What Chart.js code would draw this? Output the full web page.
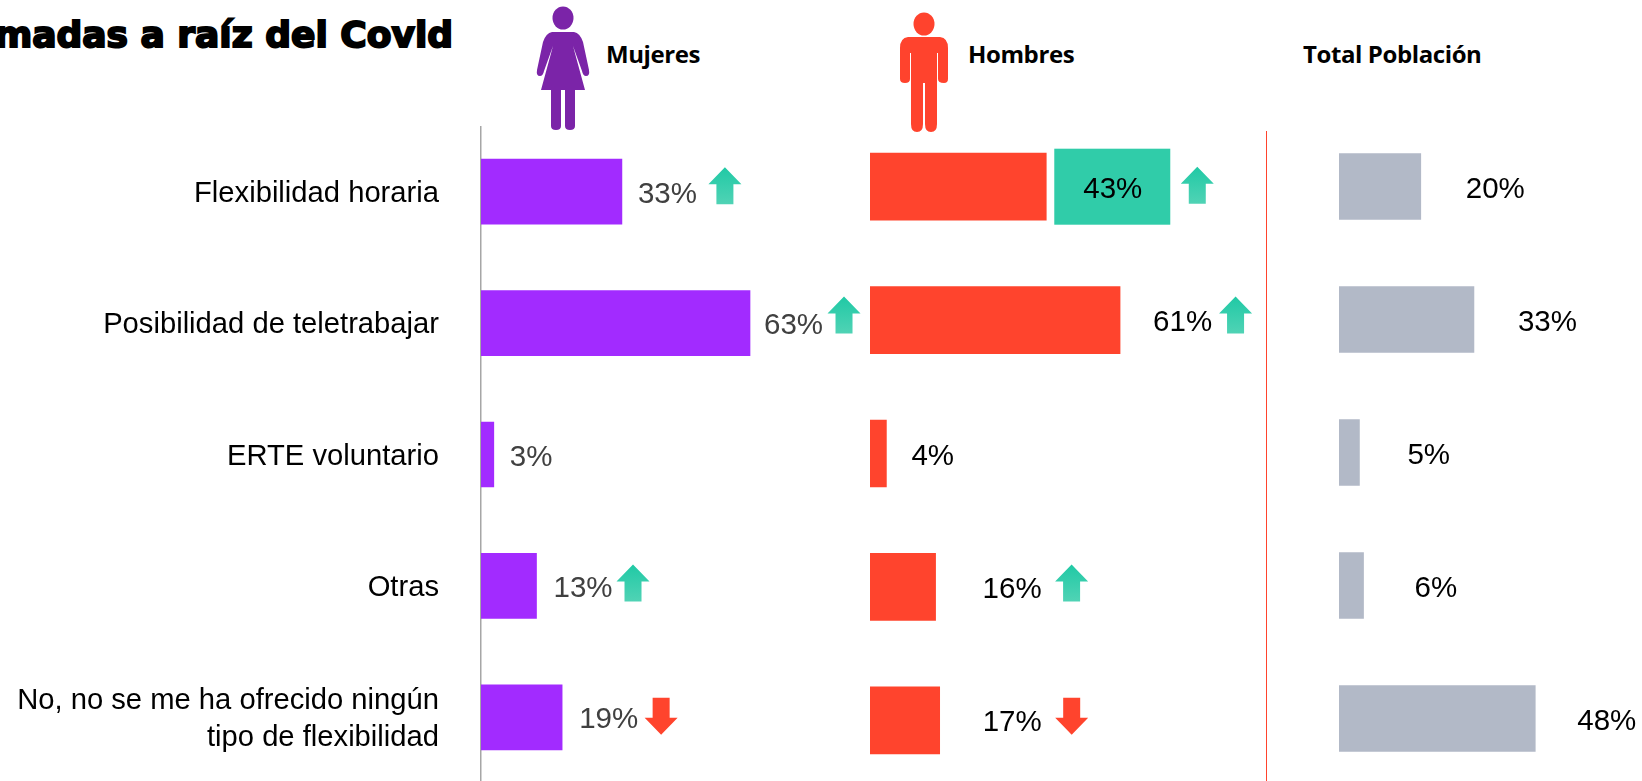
<!DOCTYPE html>
<html lang="es">
<head>
<meta charset="utf-8">
<title>Medidas a raíz del Covid</title>
<script src="https://cdn.jsdelivr.net/npm/chart.js@4"></script>
<style>
  html, body { margin: 0; height: 781px; background: #fff; overflow: hidden; }
  canvas, .head, svg, .rule { position: absolute; }
  .head { font: 700 24px "Open Sans", sans-serif; color: #000; white-space: nowrap; letter-spacing: -0.4px; }
  #title { font: 700 36px "DejaVu Sans", sans-serif; right: 1189px; top: 14px; color: #000;
           -webkit-text-stroke: 2px #000; letter-spacing: 0; }
  .rule { left: 1266px; top: 131px; width: 1px; height: 650px; background: #ff432d; }
</style>
</head>
<body>
<div class="head" id="title">madas a raíz del Covid</div>

<svg style="left:530px;top:0" width="66" height="134" viewBox="530 0 66 134">
  <ellipse cx="563" cy="18" rx="10.5" ry="11.5" fill="#7b24a8"/>
  <path fill="#7b24a8" d="M552 32 H574 Q580 33 583 42 L589 70 Q590 76 586 76 Q583 76 582 71 L573 46 L585 90 H575 V126 Q575 130 570 130 Q565 130 565 126 V90 H561 V126 Q561 130 556 130 Q551 130 551 126 V90 H541 L553 46 L544 71 Q543 76 540 76 Q536 76 537 70 L543 42 Q546 33 552 32 Z"/>
</svg>
<svg style="left:895px;top:0" width="60" height="140" viewBox="895 0 60 140">
  <ellipse cx="924" cy="24" rx="10.5" ry="11.5" fill="#ff432d"/>
  <path fill="#ff432d" d="M908 37 H940 Q948 38 948 48 V79 Q948 83 944 83 Q938 83 938 79 V53 H937 V124 Q937 132 931 132 Q925 132 925 124 V83 H923 V124 Q923 132 917 132 Q911 132 911 124 V53 H910 V79 Q910 83 905 83 Q900 83 900 79 V48 Q900 38 908 37 Z"/>
</svg>

<div class="head" style="left:606px;top:37px">Mujeres</div>
<div class="head" style="left:968px;top:37px">Hombres</div>
<div class="head" style="left:1303px;top:37px">Total Población</div>
<div class="rule"></div>

<canvas id="mujeresChart" width="870" height="657" style="left:0;top:126px"></canvas>
<canvas id="hombresChart" width="396" height="667" style="left:870px;top:120px"></canvas>
<canvas id="totalChart" width="303" height="665" style="left:1339px;top:120px"></canvas>

<script>
const categories = [
  'Flexibilidad horaria',
  'Posibilidad de teletrabajar',
  'ERTE voluntario',
  'Otras',
  ['No, no se me ha ofrecido ningún', 'tipo de flexibilidad'],
];
const mujeres = [33, 63, 3, 13, 19];
const hombres = [43, 61, 4, 16, 17];
const total = [20, 33, 5, 6, 48];
const mujeresTrend = ['up', 'up', null, 'up', 'down'];
const hombresTrend = ['up', 'up', null, 'up', 'down'];

const FONT = '"Liberation Sans", Arial, sans-serif';

// value labels, trend arrows and the highlight box next to each bar
const rowMarks = {
  id: 'rowMarks',
  afterDatasetsDraw(chart, _args, opts) {
    const { ctx } = chart;
    chart.getDatasetMeta(0).data.forEach((bar, i) => {
      if (opts.boxRow === i) {
        ctx.fillStyle = '#30cca9';
        ctx.fillRect(bar.x + 8, bar.y - 38, 116, 76);
      }
      ctx.fillStyle = opts.textColor;
      ctx.font = `29.5px ${FONT}`;
      ctx.textAlign = 'left';
      ctx.textBaseline = 'middle';
      ctx.fillText(`${chart.data.datasets[0].data[i]}%`, bar.x + opts.labelGap[i], bar.y + 3);

      const dir = opts.trend && opts.trend[i];
      if (dir) drawArrow(ctx, bar.x + opts.arrowGap[i], bar.y + opts.arrowDy[i], dir);
    });
  },
};

function drawArrow(ctx, cx, cy, dir) {
  const s = dir === 'up' ? 1 : -1;
  const tip = cy - s * 18.5;
  const neck = cy - s * 1.5;
  const foot = cy + s * 18.5;
  if (dir === 'up') {
    const g = ctx.createLinearGradient(0, tip, 0, foot);
    g.addColorStop(0, '#20c9a5');
    g.addColorStop(1, '#50d3b5');
    ctx.fillStyle = g;
  } else {
    ctx.fillStyle = '#ff442d';
  }
  ctx.beginPath();
  ctx.moveTo(cx, tip);
  ctx.lineTo(cx + 16.5, neck);
  ctx.lineTo(cx + 8.5, neck);
  ctx.lineTo(cx + 8.5, foot);
  ctx.lineTo(cx - 8.5, foot);
  ctx.lineTo(cx - 8.5, neck);
  ctx.lineTo(cx - 16.5, neck);
  ctx.closePath();
  ctx.fill();
}

function buildPanel(id, values, color, xMax, thickness, marks, yScale) {
  return new Chart(document.getElementById(id), {
    type: 'bar',
    data: {
      labels: categories,
      datasets: [{ data: values, backgroundColor: color, barThickness: thickness }],
    },
    options: {
      indexAxis: 'y',
      animation: false,
      responsive: false,
      layout: { padding: 0 },
      scales: {
        x: { display: false, min: 0, max: xMax },
        y: yScale || { display: false },
      },
      plugins: {
        legend: { display: false },
        tooltip: { enabled: false },
        rowMarks: marks,
      },
    },
    plugins: [rowMarks],
  });
}

buildPanel('mujeresChart', mujeres, '#a22bff', 91.1, 65, {
  textColor: '#404040',
  labelGap: [16, 14, 16, 17, 17],
  trend: mujeresTrend,
  arrowGap: [103, 94, 0, 96.5, 99],
  arrowDy: [-6, -8, 0, -3, -1],
}, {
  afterFit(scale) {
    // keep the full canvas height, the tall last label must not shrink the plot
    scale.width = 481;
    scale.paddingTop = 0;
    scale.paddingBottom = 0;
  },
  border: { color: '#a6a6a6', width: 1.5 },
  grid: { display: false, drawTicks: false },
  ticks: {
    color: '#000',
    padding: 42,
    labelOffset: 2,
    autoSkip: false,
    font: { family: FONT, size: 29.2, lineHeight: 1.26 },
  },
});

buildPanel('hombresChart', hombres, '#ff442d', 96.6, 67, {
  textColor: '#000',
  labelGap: [37, 33, 25, 47, 43],
  trend: hombresTrend,
  arrowGap: [151, 115.5, 0, 136, 132],
  arrowDy: [-1.5, -5, 0, -4, -4],
  boxRow: 0,
});

buildPanel('totalChart', total, '#b2b9c7', 74.1, 66, {
  textColor: '#000',
  labelGap: [45, 44, 48, 51, 42],
});
</script>
</body>
</html>
